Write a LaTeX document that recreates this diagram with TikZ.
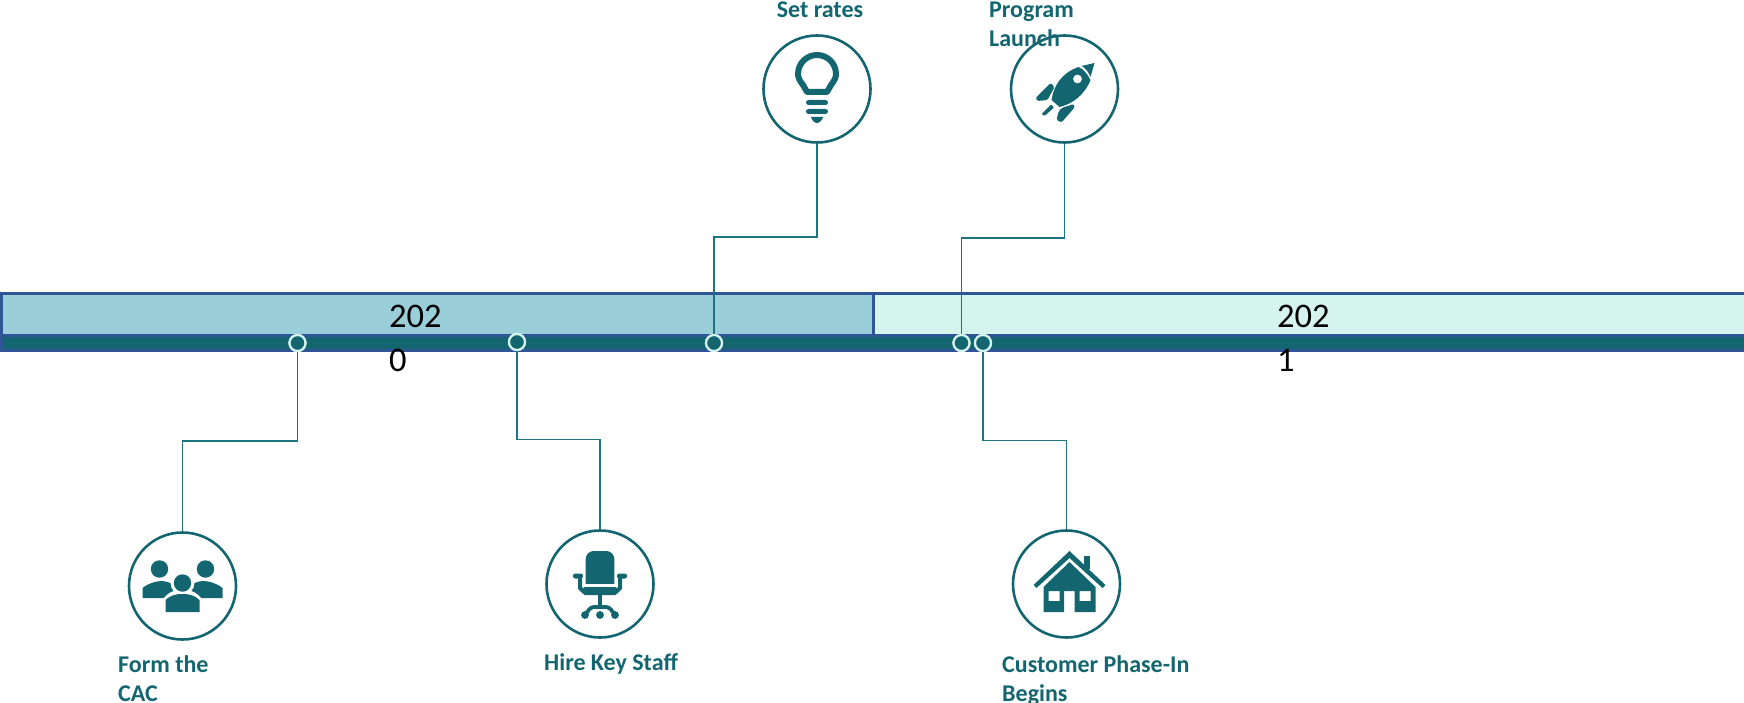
\documentclass[tikz,border=0pt]{standalone}
\usepackage{fontspec}
\setmainfont{Carlito}
\definecolor{teal1}{HTML}{136670}
\definecolor{line1}{HTML}{1B7480}
\definecolor{bar1}{HTML}{9ACFD9}
\definecolor{bar2}{HTML}{D5F4EE}
\definecolor{edge1}{HTML}{2F5597}
\tikzset{
 x=1pt,y=-1pt,
 barbox/.style={draw=edge1,line width=3pt},
 marker/.style={circle,draw=bar2,fill=teal1,line width=2.2pt,minimum size=16pt,inner sep=0pt},
 iconring/.style={circle,draw=teal1,fill=white,line width=2.6pt,minimum size=107pt,inner sep=0pt},
 link/.style={draw=line1,line width=1.25pt},
 lab/.style={text=teal1,font=\fontsize{24}{29}\selectfont\bfseries,align=left,anchor=north west,inner sep=0pt},
 yearlab/.style={text=black,font=\fontsize{34.5}{44}\selectfont,align=left,anchor=north west,inner sep=0pt},
}
\begin{document}
\begin{tikzpicture}
\useasboundingbox (0,0) rectangle (1744,703);
\fill[white] (0,0) rectangle (1744,703);
\draw[barbox,fill=bar1] (1.5,293) rectangle (873,335);
\draw[barbox,fill=bar2] (873,293) rectangle (1746,335);
\draw[barbox,fill=teal1] (1.5,335) rectangle (1746,350);
\node[marker] (m1) at (297.5,343) {};
\node[marker] (m2) at (517,342) {};
\node[marker] (m3) at (714,343) {};
\node[marker] (m4) at (961.5,343) {};
\node[marker] (m5) at (983,343) {};
\node[iconring] (c1) at (182.5,586) {};
\node[iconring] (c2) at (600,584) {};
\node[iconring] (c3) at (817,89) {};
\node[iconring] (c4) at (1064.5,89) {};
\node[iconring] (c5) at (1066.5,584) {};
\coordinate (b1) at (297.5,441);
\coordinate (b2) at (517,439.5);
\coordinate (b3) at (714,237);
\coordinate (b4) at (961.5,238);
\coordinate (b5) at (983,440.5);
\draw[link] (m1) -- (b1) -| (c1.north);
\draw[link] (m2) -- (b2) -| (c2.north);
\draw[link] (m3) -- (b3) -| (c3.south);
\draw[link] (m4) -- (b4) -| (c4.south);
\draw[link] (m5) -- (b5) -| (c5.north);
\node[marker] at (m1) {};
\node[marker] at (m2) {};
\node[marker] at (m3) {};
\node[marker] at (m4) {};
\node[marker] at (m5) {};
\node[yearlab] (y1) at (389,305) {202\\0};
\node[yearlab] (y2) at (1277,305) {202\\1};
\node[lab,anchor=north] (t3) at (820,2) {Set rates};
\node[lab] (t4) at (989,2) {Program\\Launch};
\node[lab] (t1) at (118,655) {Form the\\CAC};
\node[lab] (t2) at (544,653) {Hire Key Staff};
\node[lab] (t5) at (1002,655) {Customer Phase-In\\Begins};
% people
\begin{scope}[shift={(c1.center)},fill=teal1]
 \fill (-23,-17) circle (8.7);
 \fill (23,-17) circle (8.7);
 \fill (0,-3) circle (8.7);
 \fill (-17,26) -- (-17,14) .. controls (-12,9) and (-6,8) .. (0,8) .. controls (6,8) and (12,9) .. (17,14) -- (17,26) -- cycle;
 \fill (-40,12) -- (-40,2) .. controls (-34,-3) and (-26,-5) .. (-20,-5) .. controls (-18,-5) and (-15,-4) .. (-12,-3) .. controls (-12,0) and (-11,3) .. (-9,5) .. controls (-13,6) and (-16,9) .. (-19,12) -- cycle;
 \fill (40,12) -- (40,2) .. controls (34,-3) and (26,-5) .. (20,-5) .. controls (18,-5) and (15,-4) .. (12,-3) .. controls (12,0) and (11,3) .. (9,5) .. controls (13,6) and (16,9) .. (19,12) -- cycle;
\end{scope}
% chair
\begin{scope}[shift={(c2.center)},fill=teal1]
 \fill[rounded corners=8pt] (-14.3,8) -- (-14.3,-33) -- (14.3,-33) -- (14.3,8) -- cycle;
 \fill[white] (-15,0) rectangle (15,3);
 \fill[rounded corners=2pt] (-17,3) rectangle (17,11);
 \fill[rounded corners=2.2pt] (-27,-10.5) rectangle (-17,-5.5);
 \fill[rounded corners=2.2pt] (27,-10.5) rectangle (17,-5.5);
 \draw[teal1,line width=4pt] (-20,-8) -- (-20,4) -- (-16,8);
 \draw[teal1,line width=4pt] (20,-8) -- (20,4) -- (16,8);
 \fill (-2.2,11) rectangle (2.2,23);
 \draw[teal1,line width=3.8pt,rounded corners=3pt] (-15,31) -- (-9,23) -- (9,23) -- (15,31);
 \fill (-15,31) circle (3.9);
 \fill (0,31) circle (3.9);
 \fill (15,31) circle (3.9);
\end{scope}
% bulb
\begin{scope}[shift={(c3.center)},fill=teal1]
 \draw[teal1,line width=6pt,line join=round] (-10,3) -- (-14,-4) .. controls (-17,-8) and (-19,-11) .. (-19,-15) .. controls (-19,-26) and (-10,-34) .. (0,-34) .. controls (10,-34) and (19,-26) .. (19,-15) .. controls (19,-11) and (17,-8) .. (14,-4) -- (10,3) -- cycle;
 \fill[rounded corners=2.5pt] (-11,11) rectangle (11,16);
 \fill[rounded corners=2.5pt] (-11,20) rectangle (11,25);
 \fill (-6,28) -- (6,28) .. controls (5,32) and (2,34) .. (0,34) .. controls (-2,34) and (-5,32) .. (-6,28) -- cycle;
\end{scope}
% rocket
\begin{scope}[shift={(c4.center)},fill=teal1]
 \fill (17,-23) -- (30,-26) -- (26,-12) .. controls (24,-17) and (21,-21) .. (17,-23) -- cycle;
 \fill[even odd rule] (14,-22) .. controls (-3,-16) and (-11,-3) .. (-13,11) -- (-5,18) .. controls (8,15) and (20,6) .. (26,-9) .. controls (23,-15) and (19,-20) .. (14,-22) -- cycle (13,-10) circle (4.5);
 \fill[rounded corners=1.5pt] (-14,-6) -- (-29,9) -- (-27,12) -- (-17,11) -- (-10,-2) -- cycle;
 \fill[rounded corners=1.5pt] (-3,19) -- (9,15) -- (10.5,18) -- (-3,33.5) -- (-8,31) -- (-6,23) -- cycle;
 \fill[rounded corners=1pt] (-13.5,15.5) -- (-10.5,18.5) -- (-20,27) -- (-23,25) -- cycle;
\end{scope}
% house
\begin{scope}[shift={(c5.center)},fill=teal1]
 \fill (-33,1) -- (3,-33) -- (39,1) -- (36,4) -- (3,-26) -- (-30,4) -- cycle;
 \fill (17,-28) rectangle (23.5,-15);
 \fill[even odd rule] (3,-22) -- (29,3) -- (29,28) -- (8,28) -- (8,7) -- (-2.3,7) -- (-2.3,28) -- (-23,28) -- (-23,3) -- cycle
  (-18,7) rectangle (-7,17) (13,7) rectangle (24,17);
\end{scope}
\end{tikzpicture}
\end{document}
